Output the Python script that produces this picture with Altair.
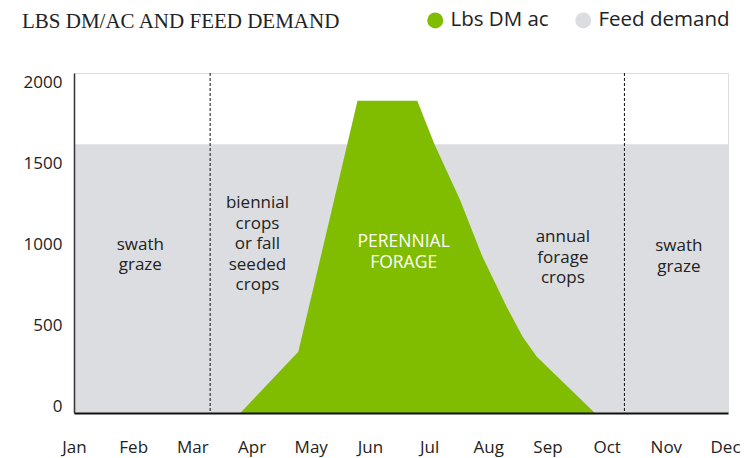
import altair as alt
import pandas as pd

# ---- data ----
title_text = ["LBS DM/AC AND FEED DEMAND"]
months = ["Jan", "Feb", "Mar", "Apr", "May", "Jun", "Jul", "Aug", "Sep", "Oct", "Nov", "Dec"]

# Feed demand band (month index, lbs)
demand_x = [0.0, 11.05]
demand_y = [1660, 1660]

# Lbs DM ac (perennial forage) outline (month index, lbs)
dm_x = [2.81, 3.79, 4.79, 5.80, 6.09, 6.52, 6.90, 7.31, 7.58, 7.82, 8.80]
dm_y = [0, 378, 1928, 1928, 1660, 1319, 966, 656, 471, 347, 0]

# dashed season dividers (month index)
divider_x = [2.30, 9.30]

# annotations (y = first line)
note_text = ["swath\ngraze", "biennial\ncrops\nor fall\nseeded\ncrops", "annual\nforage\ncrops", "swath\ngraze"]
note_x = [1.12, 3.10, 8.26, 10.22]
note_y = [1038, 1297, 1087, 1031]

inner_text = ["PERENNIAL\nFORAGE"]
inner_x = [5.57]
inner_y = [1056]

series_names = ["Lbs DM ac", "Feed demand"]
series_colors = ["#80bc00", "#dcdde0"]

# ---- tables ----
demand_df = pd.DataFrame({"m": demand_x, "v": demand_y, "series": "Feed demand"})
dm_df = pd.DataFrame({"m": dm_x, "v": dm_y, "series": "Lbs DM ac"})
div_df = pd.DataFrame({"m": divider_x, "top": 2100, "bottom": 0})
note_df = pd.DataFrame({"m": note_x, "v": note_y, "t": note_text})
inner_df = pd.DataFrame({"m": inner_x, "v": inner_y, "t": inner_text})
title_df = pd.DataFrame({"t": title_text})

label_expr = "[" + ",".join("'%s'" % m for m in months) + "][datum.value]"

xscale = alt.Scale(domain=[0, 11.05], nice=False, zero=False)
yscale = alt.Scale(domain=[0, 2100], nice=False)

color = alt.Color(
    "series:N",
    scale=alt.Scale(domain=series_names, range=series_colors),
    legend=alt.Legend(
        title=None,
        orient="none",
        direction="horizontal",
        legendX=351,
        legendY=-63,
        symbolType="circle",
        symbolSize=256,
        symbolStrokeWidth=0,
        labelFont="Open Sans",
        labelFontSize=20.5,
        labelColor="#222222",
        labelOffset=5,
        columnPadding=24,
        padding=0,
    ),
)

x_enc = alt.X(
    "m:Q",
    scale=xscale,
    axis=alt.Axis(
        values=list(range(12)),
        labelExpr=label_expr,
        title=None,
        grid=False,
        ticks=False,
        labelPadding=26,
        labelFont="Open Sans",
        labelFontSize=17,
        labelColor="#222222",
        domainColor="#111111",
        domainWidth=2,
        labelFlush=False,
        zindex=1,
    ),
)
y_enc = alt.Y(
    "v:Q",
    scale=yscale,
    axis=alt.Axis(
        values=[0, 500, 1000, 1500, 2000],
        format="d",
        title=None,
        grid=False,
        ticks=False,
        labelPadding=12,
        labelFont="Open Sans",
        labelFontSize=17,
        labelColor="#222222",
        labelBaseline="alphabetic",
        labelOffset=-2,
        domainColor="#333333",
        domainWidth=1.5,
        zindex=1,
    ),
)

demand = alt.Chart(demand_df).mark_area(opacity=1).encode(x=x_enc, y=y_enc, color=color)
dm = alt.Chart(dm_df).mark_area(opacity=1).encode(
    x=alt.X("m:Q", scale=xscale), y=alt.Y("v:Q", scale=yscale), color=color
)
dividers = alt.Chart(div_df).mark_rule(color="#111111", strokeDash=[3, 2], strokeWidth=1).encode(
    x=alt.X("m:Q", scale=xscale),
    y=alt.Y("top:Q", scale=yscale),
    y2="bottom:Q",
)
notes = alt.Chart(note_df).mark_text(
    font="Open Sans", fontSize=17, color="#222222", lineBreak="\n", lineHeight=20.5,
    align="center", baseline="middle",
).encode(x=alt.X("m:Q", scale=xscale), y=alt.Y("v:Q", scale=yscale), text="t:N")
inner = alt.Chart(inner_df).mark_text(
    font="Open Sans", fontSize=17.5, color="#ffffff", lineBreak="\n", lineHeight=21,
    align="center", baseline="middle",
).encode(x=alt.X("m:Q", scale=xscale), y=alt.Y("v:Q", scale=yscale), text="t:N")
title = alt.Chart(title_df).mark_text(
    font="Liberation Serif", fontSize=21, color="#222222", align="left", baseline="alphabetic",
).encode(text="t:N", x=alt.value(-52), y=alt.value(-45))

chart = alt.layer(demand, dm, dividers, notes, inner, title).properties(
    width=654,
    height=340,
    autosize=alt.AutoSizeParams(type="none"),
    padding={"left": 66, "top": 65, "right": 20, "bottom": 45},
).configure_view(stroke=None).configure(background="#ffffff")

chart.save("out.html", embed_options={"renderer": "svg", "actions": False})
